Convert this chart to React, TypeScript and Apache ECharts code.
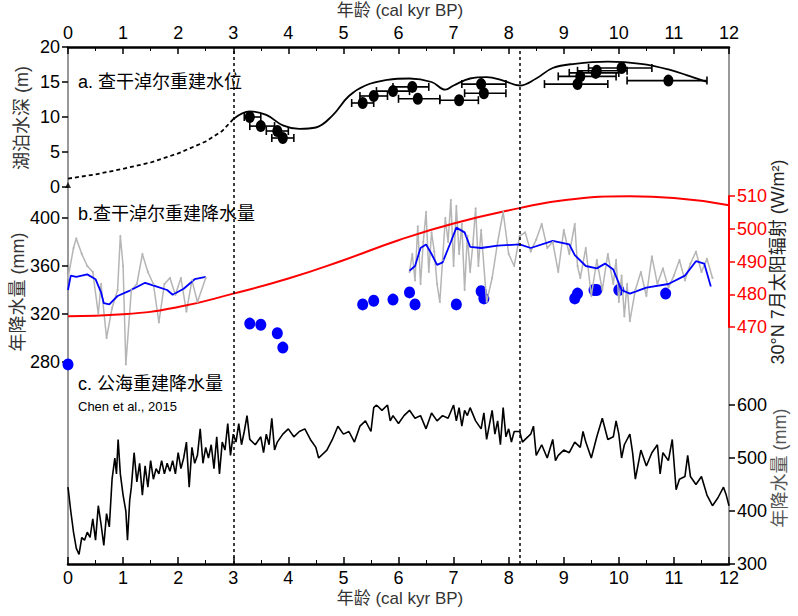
import { useEffect, useRef } from "react";
import * as echarts from "echarts";

const FONT = "'Liberation Sans Narrow', 'Liberation Sans', 'Noto Sans CJK SC'";

// panel a: lake depth
const depthPoints = [
  [3.3, 10, 3.2, 3.5], [3.5, 8.7, 3.3, 3.75], [3.8, 8, 3.6, 4.0], [3.9, 7, 3.7, 4.1],
  [5.35, 12, 5.15, 5.55], [5.55, 13, 5.3, 5.8], [5.9, 13.7, 5.6, 6.2], [6.25, 14.3, 5.9, 6.55],
  [6.35, 12.6, 6.0, 6.75], [7.1, 12.4, 6.75, 7.45], [7.5, 14.7, 7.15, 7.95], [7.55, 13.4, 7.2, 7.95],
  [9.25, 14.7, 8.65, 9.8], [9.3, 15.8, 8.9, 9.95], [9.6, 16.6, 9.25, 10.15], [9.58, 16.3, 9.1, 10.0],
  [10.05, 17, 9.45, 10.6], [10.9, 15.2, 10.15, 11.6],
];
const depthEnvelope = [
  [3, 9.7], [3.3, 10.8], [3.6, 10.3], [3.9, 8.8], [4.2, 8.3], [4.5, 8.5], [4.8, 10.2], [5.1, 13],
  [5.4, 14.5], [5.8, 15.3], [6.2, 15.5], [6.6, 15], [6.85, 13.9], [7.0, 14.5], [7.3, 15.5],
  [7.6, 15.7], [7.9, 15.2], [8.2, 14.5], [8.5, 15.5], [8.8, 17], [9.2, 17.6], [9.8, 17.9],
  [10.4, 17.6], [10.9, 16.8], [11.3, 15.8], [11.6, 15],
];
const depthDashed = [
  [0, 1.2], [0.5, 1.8], [1, 2.6], [1.5, 3.5], [2, 4.8], [2.5, 6.5], [2.8, 8], [3, 9.7],
];

// panel b: reconstructed precipitation + insolation
const precipDots = [
  [0, 278], [3.3, 312], [3.5, 311], [3.8, 304], [3.9, 292], [5.35, 328], [5.55, 331], [5.9, 332],
  [6.2, 338], [6.3, 328], [7.05, 328], [7.5, 339], [7.55, 333], [9.2, 333], [9.25, 337],
  [9.6, 340], [9.55, 340], [10.0, 340], [10.85, 337],
];
const greyA = [
  [0, 350], [0.1, 375], [0.15, 383], [0.25, 370], [0.35, 360], [0.45, 355], [0.55, 320], [0.6, 345],
  [0.7, 300], [0.8, 325], [0.9, 340], [0.95, 385], [1.0, 360], [1.05, 278], [1.15, 340], [1.25, 345],
  [1.35, 370], [1.45, 355], [1.55, 345], [1.65, 313], [1.75, 345], [1.85, 350], [1.95, 336],
  [2.05, 350], [2.15, 322], [2.25, 348], [2.35, 330], [2.5, 350],
];
const greyB = [
  [6.2, 355], [6.25, 370], [6.3, 348], [6.35, 393], [6.4, 345], [6.45, 380], [6.5, 405], [6.55, 355],
  [6.6, 388], [6.65, 372], [6.7, 345], [6.75, 330], [6.8, 365], [6.85, 400], [6.9, 380], [6.95, 415],
  [7.0, 360], [7.05, 410], [7.1, 370], [7.15, 395], [7.2, 340], [7.25, 385], [7.3, 355], [7.35, 378],
  [7.4, 408], [7.45, 360], [7.5, 390], [7.6, 330], [7.7, 350], [7.8, 380], [7.9, 405], [8.0, 370],
  [8.1, 360], [8.2, 385], [8.3, 388], [8.4, 372], [8.5, 382], [8.6, 395], [8.7, 375], [8.8, 380],
  [8.9, 355], [9.0, 390], [9.1, 370], [9.2, 395], [9.25, 360], [9.3, 350], [9.4, 375], [9.5, 335],
  [9.6, 365], [9.7, 340], [9.8, 370], [9.9, 345], [9.95, 365], [10.0, 330], [10.05, 352], [10.1, 318],
  [10.15, 345], [10.2, 314], [10.3, 340], [10.4, 355], [10.5, 335], [10.6, 368], [10.7, 345],
  [10.8, 358], [10.9, 342], [11.0, 352], [11.1, 365], [11.2, 348], [11.3, 362], [11.4, 372],
  [11.5, 355], [11.6, 366], [11.7, 350],
];
const blueA = [
  [0, 340], [0.05, 352], [0.15, 351], [0.35, 353], [0.5, 349], [0.6, 338], [0.65, 329], [0.75, 328],
  [0.9, 335], [1.1, 339], [1.4, 346], [1.6, 343], [1.8, 340], [1.9, 336], [2.1, 341], [2.3, 349],
  [2.5, 351],
];
const blueB = [
  [6.2, 356], [6.3, 360], [6.4, 375], [6.5, 378], [6.6, 370], [6.7, 361], [6.8, 363], [6.95, 380],
  [7.05, 392], [7.2, 388], [7.3, 376], [7.5, 375], [7.8, 377], [8.2, 378], [8.4, 375], [8.8, 381],
  [9.1, 378], [9.2, 369], [9.4, 360], [9.6, 358], [9.75, 362], [9.9, 357], [10.05, 340], [10.2, 337],
  [10.5, 342], [10.9, 345], [11.2, 352], [11.4, 364], [11.55, 362], [11.67, 343],
];
const insolation = [
  [0, 473.3], [1, 473.9], [2, 476.1], [3, 480.2], [4, 484.8], [5, 490.4], [6, 496.5], [7, 501.6],
  [8.2, 506.3], [9, 508.7], [10.2, 509.9], [11, 509.4], [12, 507.2],
];

// panel c: Gonghai precipitation
const gonghai = [
  [0, 445], [0.05, 400], [0.1, 360], [0.15, 330], [0.2, 318], [0.25, 350], [0.3, 345], [0.35, 360],
  [0.4, 350], [0.45, 385], [0.5, 345], [0.55, 410], [0.6, 375], [0.65, 335], [0.7, 395], [0.75, 370],
  [0.8, 460], [0.85, 500], [0.88, 470], [0.91, 535], [0.95, 470], [1.0, 430], [1.05, 400], [1.08, 345],
  [1.12, 420], [1.15, 445], [1.2, 510], [1.25, 455], [1.3, 490], [1.35, 430], [1.4, 485], [1.45, 445],
  [1.5, 495], [1.55, 460], [1.6, 480], [1.65, 470], [1.7, 495], [1.75, 470], [1.8, 490], [1.85, 475],
  [1.9, 495], [1.95, 470], [2.0, 510], [2.05, 480], [2.1, 500], [2.15, 530], [2.2, 445], [2.25, 520],
  [2.3, 490], [2.35, 505], [2.4, 555], [2.45, 490], [2.5, 520], [2.55, 500], [2.6, 525], [2.65, 480],
  [2.7, 540], [2.75, 470], [2.8, 530], [2.85, 515], [2.9, 565], [2.95, 505], [3.0, 545], [3.05, 530],
  [3.1, 565], [3.15, 525], [3.2, 550], [3.25, 580], [3.3, 535], [3.4, 525], [3.5, 540], [3.55, 510],
  [3.6, 545], [3.65, 525], [3.7, 575], [3.75, 515], [3.8, 530], [3.9, 545], [4.0, 555], [4.1, 540],
  [4.2, 550], [4.3, 555], [4.4, 535], [4.5, 520], [4.55, 500], [4.7, 515], [4.8, 535], [4.9, 560],
  [5.0, 545], [5.1, 550], [5.2, 530], [5.3, 560], [5.4, 570], [5.5, 550], [5.55, 595], [5.6, 600],
  [5.7, 590], [5.8, 600], [5.85, 570], [5.9, 580], [6.0, 565], [6.1, 580], [6.2, 590], [6.3, 575],
  [6.4, 580], [6.5, 555], [6.6, 585], [6.7, 570], [6.8, 580], [6.9, 575], [7.0, 600], [7.05, 570],
  [7.1, 595], [7.15, 560], [7.2, 590], [7.25, 580], [7.3, 595], [7.4, 570], [7.5, 555], [7.55, 585],
  [7.6, 535], [7.7, 590], [7.75, 545], [7.8, 570], [7.85, 525], [7.9, 595], [7.95, 540], [8.0, 555],
  [8.05, 530], [8.1, 550], [8.2, 550], [8.25, 530], [8.3, 535], [8.4, 545], [8.45, 560], [8.5, 505],
  [8.6, 525], [8.7, 500], [8.8, 535], [8.85, 495], [8.9, 505], [9.0, 515], [9.1, 510], [9.2, 530],
  [9.3, 520], [9.35, 550], [9.4, 530], [9.5, 500], [9.6, 540], [9.7, 575], [9.8, 535], [9.9, 540],
  [9.95, 570], [10.0, 545], [10.05, 500], [10.1, 525], [10.2, 545], [10.25, 510], [10.3, 460],
  [10.4, 515], [10.5, 485], [10.6, 510], [10.7, 525], [10.75, 470], [10.8, 510], [10.9, 495],
  [10.97, 535], [11.04, 440], [11.1, 460], [11.2, 465], [11.25, 505], [11.3, 465], [11.4, 450],
  [11.5, 465], [11.6, 430], [11.7, 410], [11.8, 425], [11.9, 445], [11.95, 430], [12.0, 410],
];

const ageTicks = [0, 1, 2, 3, 4, 5, 6, 7, 8, 9, 10, 11, 12];
const boundaries = [3, 8.2];

export default function App() {
  const ref = useRef<HTMLDivElement>(null);

  useEffect(() => {
    if (!ref.current) return;
    const chart = echarts.init(ref.current, null, { renderer: "svg" });
    const L = 68, R = 798 - 729;
    const lbl = { fontFamily: FONT, fontSize: 18, color: "#000" };

    const xBase = (gridIndex: number, extra: any = {}) => ({
      type: "value", gridIndex, min: 0, max: 12, interval: 1,
      axisLine: { show: false }, axisTick: { show: false }, axisLabel: { show: false },
      splitLine: { show: false }, ...extra,
    });
    const xShown = (gridIndex: number, position: string) =>
      xBase(gridIndex, {
        position,
        axisLine: { show: true, onZero: false, lineStyle: { color: "#000", width: 2.5 } },
        axisTick: { show: true, inside: true, length: 7, lineStyle: { color: "#000", width: 1.5 } },
        minorTick: { show: true, splitNumber: 2, length: 4, lineStyle: { color: "#000" } },
        axisLabel: { ...lbl, margin: 5, formatter: (v: number) => (ageTicks.includes(v) ? String(v) : "") },
      });

    const yTicks = (color: string) => ({
      axisTick: { show: true, length: 6, lineStyle: { color, width: 1.5 } },
      splitLine: { show: false },
    });

    chart.setOption({
      animation: false,
      grid: [
        { left: L, right: R, top: 47, height: 140 },
        { left: L, right: R, top: 218, height: 144 },
        { left: L, right: R, top: 196, height: 131 },
        { left: L, right: R, top: 405, height: 159 },
        { left: L, right: R, top: 47, height: 517 },
      ],
      xAxis: [
        xShown(0, "top"),
        xBase(1),
        xBase(2),
        xShown(3, "bottom"),
        xBase(4),
      ],
      yAxis: [
        {
          type: "value", gridIndex: 0, min: 0, max: 20, interval: 5,
          axisLine: { show: false, onZero: false }, axisLabel: { ...lbl, margin: 8 }, ...yTicks("#000"),
        },
        {
          type: "value", gridIndex: 1, min: 280, max: 400, interval: 40,
          axisLine: { show: false, onZero: false }, axisLabel: { ...lbl, margin: 8 }, ...yTicks("#000"),
        },
        {
          type: "value", gridIndex: 2, min: 470, max: 510, interval: 10, position: "right",
          axisLine: { show: true, onZero: false, lineStyle: { color: "#f00", width: 2 } },
          axisLabel: { ...lbl, color: "#f00", margin: 8 }, ...yTicks("#f00"),
        },
        {
          type: "value", gridIndex: 3, min: 300, max: 600, interval: 100, position: "right",
          axisLine: { show: false, onZero: false }, axisLabel: { ...lbl, margin: 8 }, ...yTicks("#000"),
        },
        { type: "value", gridIndex: 4, min: 0, max: 1, show: false },
      ],
      series: [
        {
          type: "line", xAxisIndex: 0, yAxisIndex: 0, data: depthDashed, showSymbol: false,
          lineStyle: { color: "#000", width: 1.8, type: [4, 3] },
        },
        {
          type: "line", xAxisIndex: 0, yAxisIndex: 0, data: depthEnvelope, smooth: 0.4, showSymbol: false,
          lineStyle: { color: "#000", width: 1.8 },
        },
        {
          type: "custom", xAxisIndex: 0, yAxisIndex: 0, data: depthPoints,
          renderItem: (_p: any, api: any) => {
            const y = api.value(1);
            const a = api.coord([api.value(2), y]);
            const b = api.coord([api.value(3), y]);
            const st = { stroke: "#000", lineWidth: 1.6 };
            return {
              type: "group",
              children: [
                { type: "line", shape: { x1: a[0], y1: a[1], x2: b[0], y2: b[1] }, style: st },
                { type: "line", shape: { x1: a[0], y1: a[1] - 4, x2: a[0], y2: a[1] + 4 }, style: st },
                { type: "line", shape: { x1: b[0], y1: b[1] - 4, x2: b[0], y2: b[1] + 4 }, style: st },
              ],
            };
          },
        },
        {
          type: "scatter", xAxisIndex: 0, yAxisIndex: 0, data: depthPoints.map((d) => [d[0], d[1]]),
          symbolSize: [10, 12], itemStyle: { color: "#000", opacity: 1 },
        },
        {
          type: "scatter", xAxisIndex: 0, yAxisIndex: 0, data: [[0, 0.3]], symbol: "triangle",
          symbolSize: 6, itemStyle: { color: "#000" },
        },
        {
          type: "line", xAxisIndex: 1, yAxisIndex: 1, data: greyA, clip: false, symbol: "circle",
          symbolSize: 2, lineStyle: { color: "#b5b5b5", width: 1.5 }, itemStyle: { color: "#b5b5b5" },
        },
        {
          type: "line", xAxisIndex: 1, yAxisIndex: 1, data: greyB, clip: false, symbol: "circle",
          symbolSize: 2, lineStyle: { color: "#b5b5b5", width: 1.5 }, itemStyle: { color: "#b5b5b5" },
        },
        {
          type: "line", xAxisIndex: 1, yAxisIndex: 1, data: blueA, showSymbol: false,
          lineStyle: { color: "#0000ff", width: 1.8 },
        },
        {
          type: "line", xAxisIndex: 1, yAxisIndex: 1, data: blueB, showSymbol: false,
          lineStyle: { color: "#0000ff", width: 1.8 },
        },
        {
          type: "line", xAxisIndex: 2, yAxisIndex: 2, data: insolation, smooth: true, showSymbol: false,
          clip: false, lineStyle: { color: "#f00", width: 2 },
        },
        {
          type: "scatter", xAxisIndex: 1, yAxisIndex: 1, data: precipDots, clip: false,
          symbolSize: [11, 12], itemStyle: { color: "#0000ff", opacity: 1 },
        },
        {
          type: "line", xAxisIndex: 3, yAxisIndex: 3, data: gonghai, showSymbol: false,
          lineStyle: { color: "#000", width: 1.6 },
        },
        {
          type: "line", xAxisIndex: 4, yAxisIndex: 4, data: [], silent: true,
          markLine: {
            symbol: "none", silent: true, label: { show: false },
            lineStyle: { color: "#000", width: 1.5, type: [3, 3] },
            data: boundaries.map((x) => ({ xAxis: x })),
          },
        },
      ],
      graphic: [
        { type: "line", shape: { x1: L, y1: 47, x2: L, y2: 564 }, style: { stroke: "#777", lineWidth: 1.5 } },
        { type: "line", shape: { x1: 729, y1: 47, x2: 729, y2: 564 }, style: { stroke: "#777", lineWidth: 1.5 } },
        { type: "text", x: 400, y: 2, style: { text: "年龄 (cal kyr BP)", font: `17px ${FONT}`, fill: "#333", align: "center" } },
        { type: "text", x: 400, y: 598, style: { text: "年龄 (cal kyr BP)", font: `17px ${FONT}`, fill: "#333", align: "center", verticalAlign: "middle" } },
        { type: "text", x: 78, y: 82, style: { text: "a. 查干淖尔重建水位", font: `18px ${FONT}`, fill: "#000", verticalAlign: "middle" } },
        { type: "text", x: 78, y: 214, style: { text: "b.查干淖尔重建降水量", font: `18px ${FONT}`, fill: "#000", verticalAlign: "middle" } },
        { type: "text", x: 78, y: 384, style: { text: "c. 公海重建降水量", font: `18px ${FONT}`, fill: "#000", verticalAlign: "middle" } },
        { type: "text", x: 78, y: 406, style: { text: "Chen et al., 2015", font: `13px ${FONT}`, fill: "#000", verticalAlign: "middle" } },
        { type: "text", x: 22, y: 118, rotation: Math.PI / 2, style: { text: "湖泊水深 (m)", font: `18px ${FONT}`, fill: "#333", align: "center", verticalAlign: "middle" } },
        { type: "text", x: 18, y: 292, rotation: Math.PI / 2, style: { text: "年降水量 (mm)", font: `18px ${FONT}`, fill: "#333", align: "center", verticalAlign: "middle" } },
        { type: "text", x: 778, y: 262, rotation: Math.PI / 2, style: { text: "30°N 7月太阳辐射 (W/m²)", font: `18px ${FONT}`, fill: "#222", align: "center", verticalAlign: "middle" } },
        { type: "text", x: 780, y: 468, rotation: Math.PI / 2, style: { text: "年降水量 (mm)", font: `18px ${FONT}`, fill: "#555", align: "center", verticalAlign: "middle" } },
      ],
    });

    return () => chart.dispose();
  }, []);

  return <div ref={ref} style={{ position: "absolute", left: 0, top: 0, width: 798, height: 616, background: "#fff" }} />;
}
